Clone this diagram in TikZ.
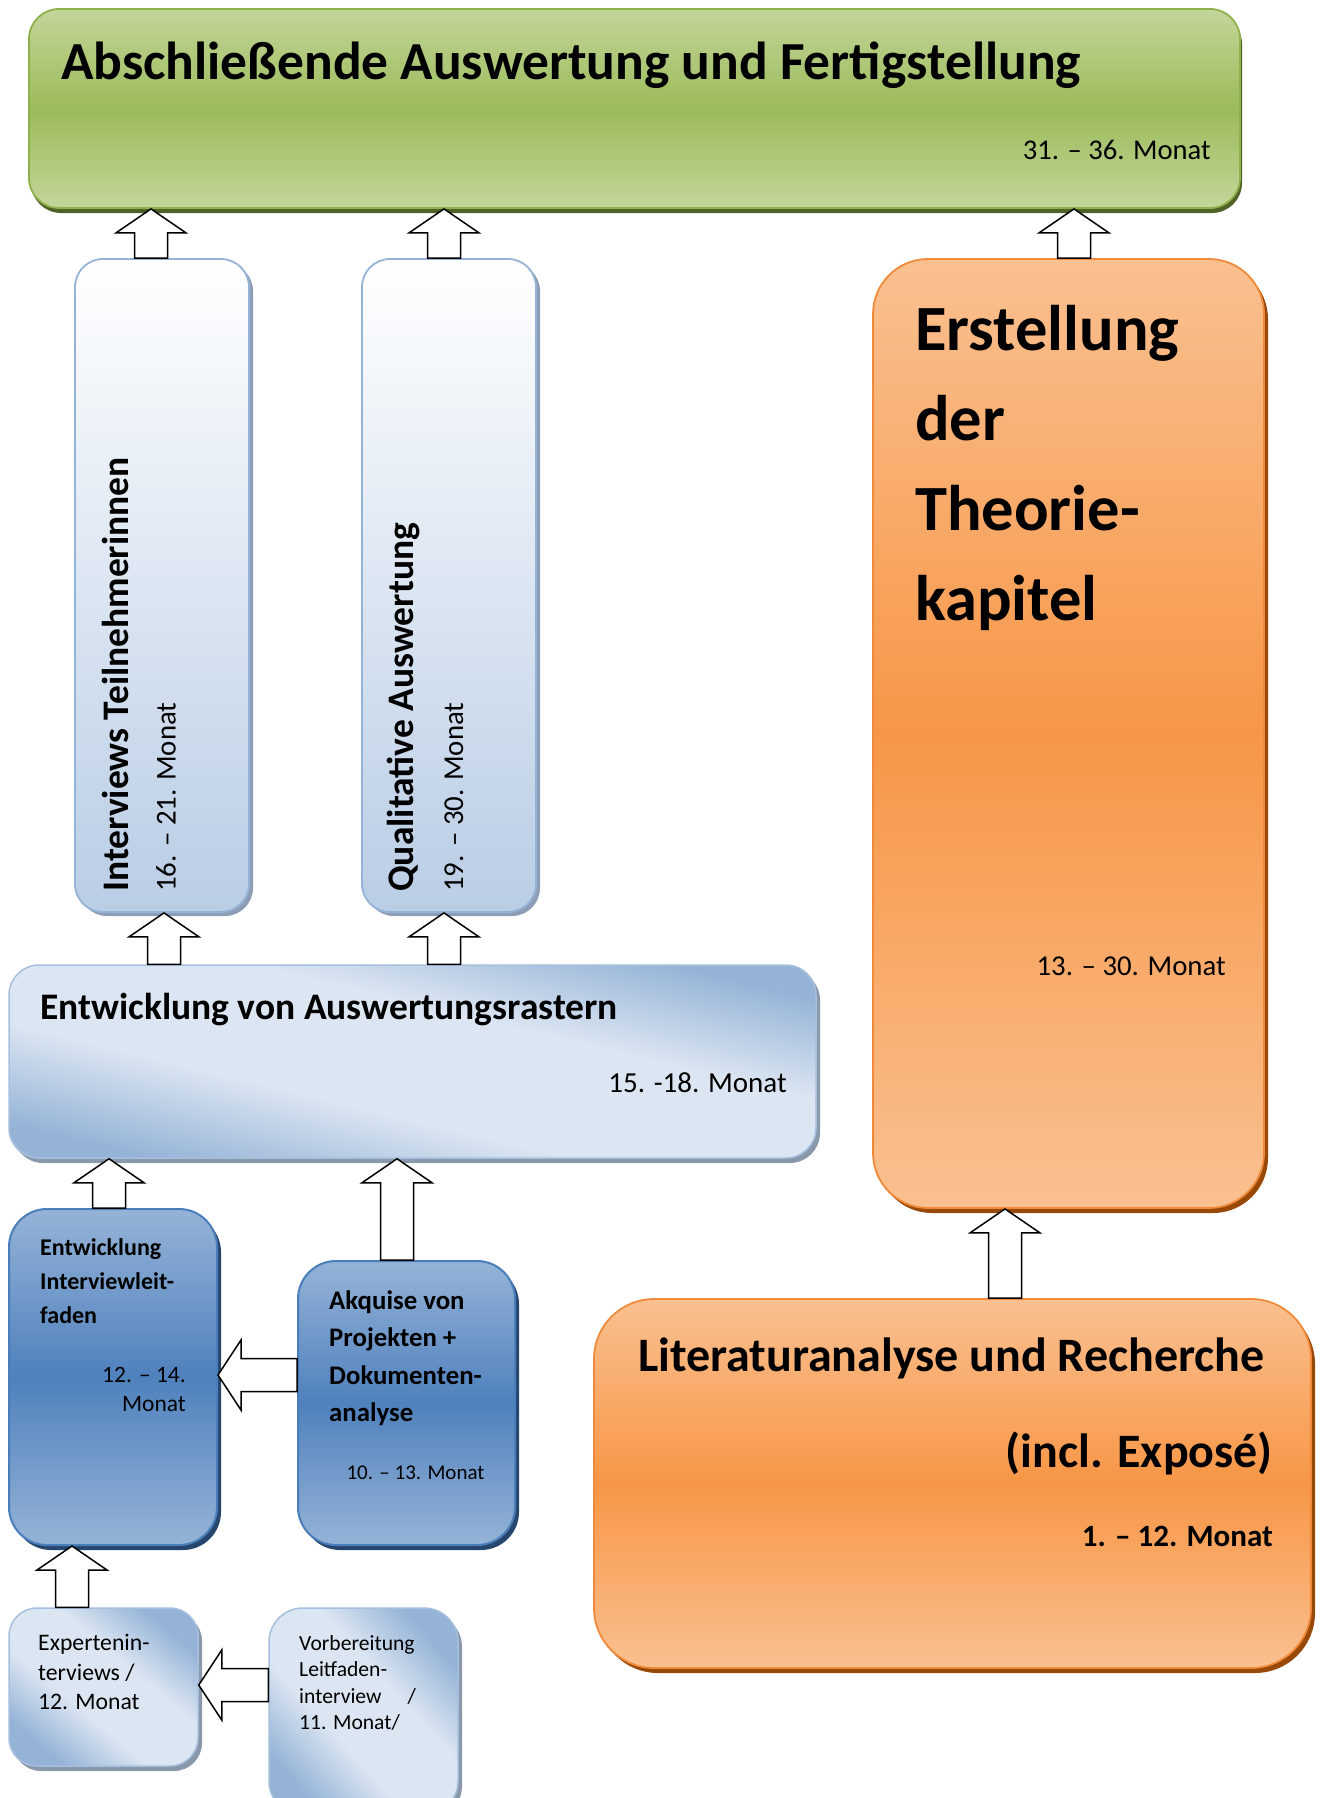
\documentclass[tikz,border=0pt]{standalone}
\usepackage{fontspec}
\setmainfont{Carlito}
\usetikzlibrary{calc,shadows}
\definecolor{greenL}{HTML}{C3D69B}
\definecolor{greenM}{HTML}{9BBB59}
\definecolor{greenB}{HTML}{8FB14B}
\definecolor{greenS}{HTML}{4F6228}
\definecolor{paleP}{HTML}{B9CDE5}
\definecolor{paleB}{HTML}{95B3D7}
\definecolor{paleS}{HTML}{8C9DB5}
\definecolor{rasL}{HTML}{DCE6F2}
\definecolor{rasD}{HTML}{95B3D7}
\definecolor{rasB}{HTML}{A6BFDD}
\definecolor{rasS}{HTML}{8A98AB}
\definecolor{dbT}{HTML}{95B3D7}
\definecolor{dbM}{HTML}{4F81BD}
\definecolor{dbB}{HTML}{4A7EBB}
\definecolor{dbS}{HTML}{27466E}
\definecolor{orT}{HTML}{FAC090}
\definecolor{orM}{HTML}{F79646}
\definecolor{orB}{HTML}{F08A3A}
\definecolor{orS}{HTML}{984807}
\pgfdeclareverticalshading{diagshade}{100bp}{color(0bp)=(rasD); color(25bp)=(rasD); color(41bp)=(rasL); color(59bp)=(rasL); color(75bp)=(rasD); color(100bp)=(rasD)}
\tikzset{
  box/.style={rectangle, inner sep=0pt},
  greenbox/.style={box, rounded corners=30pt, draw=greenB, line width=1.8pt,
    top color=greenL, bottom color=greenL, middle color=greenM,
    drop shadow={shadow xshift=2pt, shadow yshift=-5pt, opacity=1, fill=greenS}},
  palebox/.style={box, rounded corners=28pt, draw=paleB, line width=1.8pt,
    top color=white, bottom color=paleP,
    drop shadow={shadow xshift=4pt, shadow yshift=-4pt, opacity=1, fill=paleS}},
  diagbox/.style={box, rounded corners=30pt, draw=rasB, line width=1.5pt,
    shading=diagshade,
    drop shadow={shadow xshift=4pt, shadow yshift=-5pt, opacity=1, fill=rasS}},
  darkbox/.style={box, rounded corners=38pt, draw=dbB, line width=2pt,
    top color=dbT, bottom color=dbT, middle color=dbM,
    drop shadow={shadow xshift=4pt, shadow yshift=-5pt, opacity=1, fill=dbS}},
  orbox/.style={box, draw=orB, line width=1.8pt,
    top color=orT, bottom color=orT, middle color=orM,
    drop shadow={shadow xshift=4pt, shadow yshift=-5pt, opacity=1, fill=orS}},
  blockarrow/.style={draw=black, fill=white, line width=1.5pt, line join=miter},
  txt/.style={inner sep=0pt, text=black},
}
\newcommand\BArrowUp[3]{%
  \draw[blockarrow] let \p1=(#2.north), \p2=(#3.south) in
   (#1pt-16.5pt,\y1) -- (#1pt-16.5pt,\y2-24pt) -- (#1pt-35pt,\y2-24pt) -- (#1pt,\y2)
   -- (#1pt+35pt,\y2-24pt) -- (#1pt+16.5pt,\y2-24pt) -- (#1pt+16.5pt,\y1) -- cycle;}
\newcommand\BArrowLeft[3]{%
  \draw[blockarrow] let \p1=(#2.west), \p2=(#3.east) in
   (\x1,#1pt+16.5pt) -- (\x2+23pt,#1pt+16.5pt) -- (\x2+23pt,#1pt+35pt) -- (\x2,#1pt)
   -- (\x2+23pt,#1pt-35pt) -- (\x2+23pt,#1pt-16.5pt) -- (\x1,#1pt-16.5pt) -- cycle;}
\begin{document}
\begin{tikzpicture}[x=1pt,y=1pt]
\useasboundingbox (0,0) rectangle (1325,-1798);
\clip (0,0) rectangle (1325,-1798);
% boxes
\node[greenbox, minimum width=1211pt, minimum height=199pt] (fin) at (634.5,-108.5) {};
\node[palebox, minimum width=174pt, minimum height=653pt] (intv) at (162,-585.5) {};
\node[palebox, minimum width=174pt, minimum height=653pt] (qual) at (449,-585.5) {};
\node[diagbox, shading angle=-13.5, minimum width=807pt, minimum height=193pt] (ras) at (412.5,-1061.5) {};
\node[darkbox, minimum width=208pt, minimum height=336pt] (leit) at (113,-1377) {};
\node[darkbox, minimum width=217pt, minimum height=284pt] (akq) at (406.5,-1403) {};
\node[diagbox, shading angle=-40, rounded corners=28pt, minimum width=189pt, minimum height=158pt] (expert) at (103.5,-1687) {};
\node[diagbox, shading angle=-48, rounded corners=34pt, minimum width=189pt, minimum height=207pt] (vorb) at (363.5,-1711.5) {};
\node[orbox, rounded corners=55pt, minimum width=391pt, minimum height=949pt] (theo) at (1068.5,-733.5) {};
\node[orbox, rounded corners=60pt, minimum width=717pt, minimum height=369pt] (lit) at (952.5,-1483.5) {};
% texts
\node[txt, anchor=west, font=\fontsize{53.5}{64}\selectfont\bfseries] (finT) at (61,-65) {Abschließende Auswertung und Fertigstellung};
\node[txt, anchor=east, font=\fontsize{28.6}{34}\selectfont] (finD) at (1211,-150) {31. – 36. Monat};
\node[txt, rotate=90, anchor=west, font=\fontsize{37.5}{45}\selectfont\bfseries] (intvT) at (115,-892) {Interviews Teilnehmerinnen};
\node[txt, rotate=90, anchor=west, font=\fontsize{28.8}{34}\selectfont] (intvD) at (166,-892) {16. – 21. Monat};
\node[txt, rotate=90, anchor=west, font=\fontsize{37.5}{45}\selectfont\bfseries] (qualT) at (403,-892) {Qualitative Auswertung};
\node[txt, rotate=90, anchor=west, font=\fontsize{28.8}{34}\selectfont] (qualD) at (454,-892) {19. – 30. Monat};
\node[txt, anchor=west, font=\fontsize{37.5}{45}\selectfont\bfseries] (rasT) at (40,-1010) {Entwicklung von Auswertungsrastern};
\node[txt, anchor=east, font=\fontsize{29}{35}\selectfont] (rasD) at (787,-1083) {15. -18. Monat};
\node[txt, anchor=north west, align=left, font=\fontsize{24}{34}\selectfont\bfseries] (leitT) at (40,-1238) {Entwicklung\\Interviewleit-\\faden};
\node[txt, anchor=north east, align=right, font=\fontsize{23.5}{29}\selectfont] (leitD) at (186,-1367) {12. – 14.\\Monat};
\node[txt, anchor=north west, align=left, font=\fontsize{26.8}{37.5}\selectfont\bfseries] (akqT) at (329,-1290) {Akquise von\\Projekten +\\Dokumenten-\\analyse};
\node[txt, font=\fontsize{21}{25}\selectfont] (akqD) at (415.5,-1473) {10. – 13. Monat};
\node[txt, anchor=north west, align=left, font=\fontsize{23.7}{29.5}\selectfont] (expT) at (38,-1634) {Expertenin-\\terviews /\\12. Monat};
\node[txt, anchor=north west, align=left, font=\fontsize{21.6}{26.5}\selectfont] (vorbT) at (299,-1635) {Vorbereitung\\Leitfaden-\\interview\hspace{1.2em}/\\11. Monat/};
\node[txt, anchor=north west, align=left, font=\fontsize{64.5}{90}\selectfont\bfseries] (theoT) at (915,-305) {Erstellung\\der\\Theorie-\\kapitel};
\node[txt, anchor=east, font=\fontsize{28.8}{34}\selectfont] (theoD) at (1226,-966) {13. – 30. Monat};
\node[txt, anchor=west, font=\fontsize{48}{58}\selectfont\bfseries] (litT) at (638,-1358) {Literaturanalyse und Recherche};
\node[txt, anchor=east, font=\fontsize{48}{58}\selectfont\bfseries] (litX) at (1273,-1453) {(incl. Exposé)};
\node[txt, anchor=east, font=\fontsize{31}{37}\selectfont\bfseries] (litD) at (1273,-1536) {1. – 12. Monat};
% arrows
\BArrowUp{151}{intv}{fin}
\BArrowUp{444}{qual}{fin}
\BArrowUp{1074}{theo}{fin}
\BArrowUp{164}{ras}{intv}
\BArrowUp{444}{ras}{qual}
\BArrowUp{109}{leit}{ras}
\BArrowUp{397}{akq}{ras}
\BArrowUp{72}{expert}{leit}
\BArrowUp{1005}{lit}{theo}
\BArrowLeft{-1375}{akq}{leit}
\BArrowLeft{-1685}{vorb}{expert}
\end{tikzpicture}
\end{document}
